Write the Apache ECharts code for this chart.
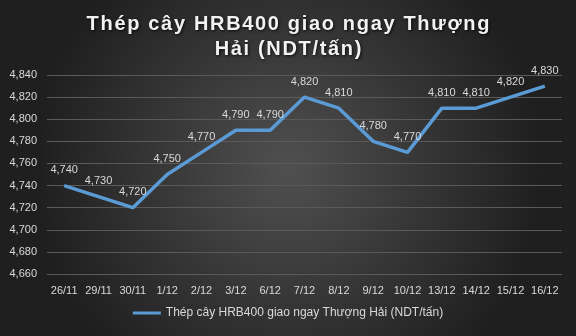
<!DOCTYPE html>
<html><head><meta charset="utf-8">
<script src="https://cdn.jsdelivr.net/npm/echarts@6/dist/echarts.min.js"></script>
<style>html,body{margin:0;padding:0;}#c{width:576px;height:336px;}</style>
</head><body><div id="c"></div>
<script>
const categories = ['26/11','29/11','30/11','1/12','2/12','3/12','6/12','7/12','8/12','9/12','10/12','13/12','14/12','15/12','16/12'];
const values = [4740,4730,4720,4750,4770,4790,4790,4820,4810,4780,4770,4810,4810,4820,4830];
const seriesName = 'Thép cây HRB400 giao ngay Thượng Hải (NDT/tấn)';
const titleLines = ['Thép cây HRB400 giao ngay Thượng', 'Hải (NDT/tấn)'];
const spaced = s => Array.from(s).join('\u200A');
const titleText = titleLines.map(spaced).join('\n');
const fmt = v => String(v).replace(/\B(?=(\d{3})+(?!\d))/g, ',');
const chart = echarts.init(document.getElementById('c'), null, {renderer:'canvas'});
chart.setOption({
  backgroundColor: {type:'radial', x:0.5, y:0.5, r:0.75, colorStops:[{offset:0,color:'#505050'},{offset:1,color:'#1f1f1f'}]},
  animation:false,
  title:{text:titleText, left:'center', top:7, textStyle:{color:'#f2f2f2', fontFamily:'Liberation Sans', fontWeight:'bold', fontSize:20, lineHeight:25, textShadowColor:'rgba(0,0,0,0.8)', textShadowBlur:3, textShadowOffsetX:1, textShadowOffsetY:1}},
  legend:{bottom:12, left:'center', itemWidth:28, itemHeight:3, icon:'rect', textStyle:{color:'#d9d9d9', fontFamily:'Liberation Sans', fontSize:12}, itemGap:3},
  grid:{left:47, right:14, top:75, bottom:62},
  xAxis:{type:'category', data:categories, boundaryGap:true, axisLine:{show:false}, axisTick:{show:false}, axisLabel:{color:'#d9d9d9', fontFamily:'Liberation Sans', fontSize:11, interval:0, margin:11}},
  yAxis:{type:'value', min:4660, max:4840, interval:20, axisLine:{show:false}, axisTick:{show:false}, splitLine:{lineStyle:{color:'#5a5a5a', width:1}}, axisLabel:{color:'#d9d9d9', fontFamily:'Liberation Sans', fontSize:11, margin:10, formatter:fmt}},
  series:[{name:seriesName, type:'line', data:values, showSymbol:true, symbol:'circle', symbolSize:0.1, lineStyle:{color:'#5b9bd5', width:3.5}, itemStyle:{color:'#5b9bd5'},
    label:{show:true, position:'top', distance:10, color:'#d9d9d9', fontFamily:'Liberation Sans', fontSize:11, formatter:p=>fmt(p.value)}}]
});
</script></body></html>
